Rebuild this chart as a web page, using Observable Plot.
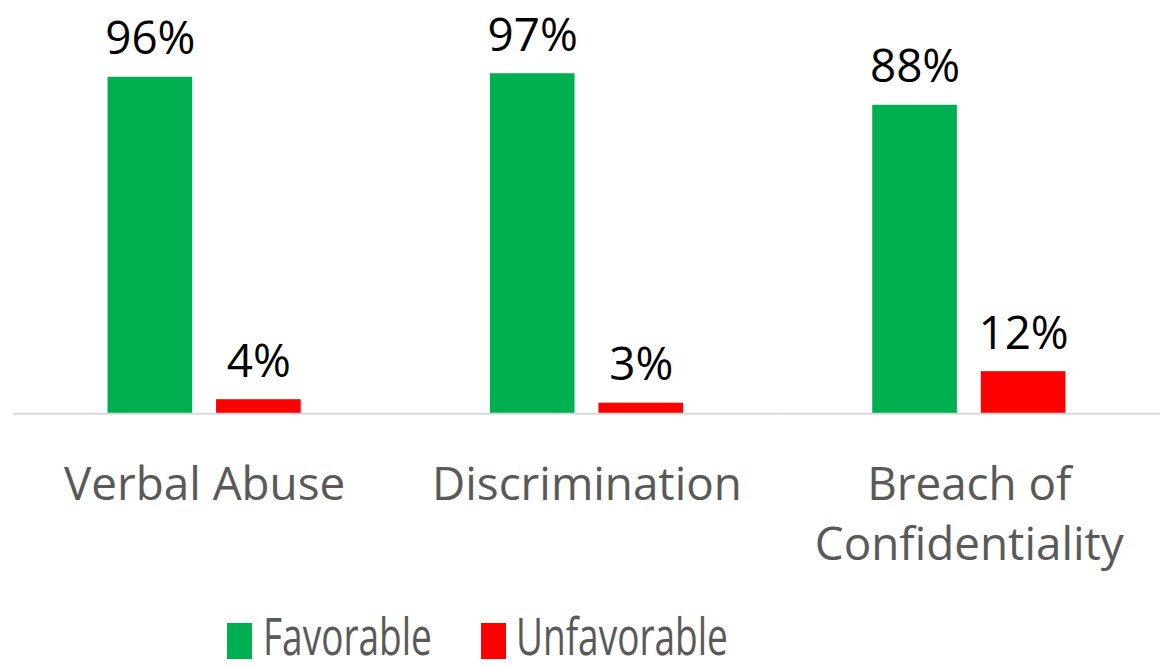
<!DOCTYPE html>
<html>
<head>
<meta charset="utf-8">
<script src="https://cdn.jsdelivr.net/npm/d3@7"></script>
<script src="https://cdn.jsdelivr.net/npm/@observablehq/plot@0.6"></script>
<style>
  html, body { margin: 0; padding: 0; background: #fff; }
  body { width: 1160px; height: 669px; overflow: hidden; font-family: "Open Sans", sans-serif; }
  #legend { position: relative; height: 69px; }
  .sw { position: absolute; top: 26px; width: 25px; height: 36px; }
  .lab { position: absolute; top: 0; font-size: 37px; color: #595959; white-space: nowrap;
         transform-origin: 0 100%; transform: scaleY(1.4); line-height: 1; }
</style>
</head>
<body>
<div id="chart"></div>
<div id="legend"></div>
<script>
const categories = ["Verbal Abuse", "Discrimination", "Breach of\nConfidentiality"];
const series = ["Favorable", "Unfavorable"];
const favorable = [96, 97, 88];
const unfavorable = [4, 3, 12];
const colors = ["#00B050", "#FF0000"];

const data = [];
categories.forEach((c, i) => {
  data.push({category: c, series: series[0], value: favorable[i]});
  data.push({category: c, series: series[1], value: unfavorable[i]});
});

const chart = Plot.plot({
  width: 1165,
  height: 600,
  marginTop: 63,
  marginBottom: 185,
  marginLeft: 13,
  marginRight: 0,
  style: {fontFamily: "'Open Sans', sans-serif", background: "#fff"},
  fx: {domain: categories, padding: 0, axis: null},
  x: {domain: series, paddingInner: 0.218, paddingOuter: 0.855, axis: null},
  y: {domain: [0, 100], axis: null},
  color: {domain: series, range: colors},
  marks: [
    Plot.barY(data, {fx: "category", x: "series", y: "value", fill: "series"}),
    Plot.ruleY([0], {stroke: "#D9D9D9", strokeWidth: 2}),
    Plot.text(data, {fx: "category", x: "series", y: "value", text: d => d.value + "%",
      lineAnchor: "bottom", dy: -23, fontSize: 46, fill: "#000"}),
    Plot.text(categories, {fx: d => d, text: d => d, frameAnchor: "bottom", lineAnchor: "top",
      dy: 44, fontSize: 46, fill: "#595959", lineHeight: 1.31})
  ]
});
document.getElementById("chart").appendChild(chart);

const legendPos = [{sw: 227, lab: 263}, {sw: 481, lab: 516}];
const legend = document.getElementById("legend");
series.forEach((s, i) => {
  const sw = document.createElement("div");
  sw.className = "sw";
  sw.style.left = legendPos[i].sw + "px";
  sw.style.background = colors[i];
  legend.appendChild(sw);
  const lab = document.createElement("span");
  lab.className = "lab";
  lab.textContent = s;
  lab.style.left = legendPos[i].lab + "px";
  lab.style.top = "27px";
  legend.appendChild(lab);
});
</script>
</body>
</html>
